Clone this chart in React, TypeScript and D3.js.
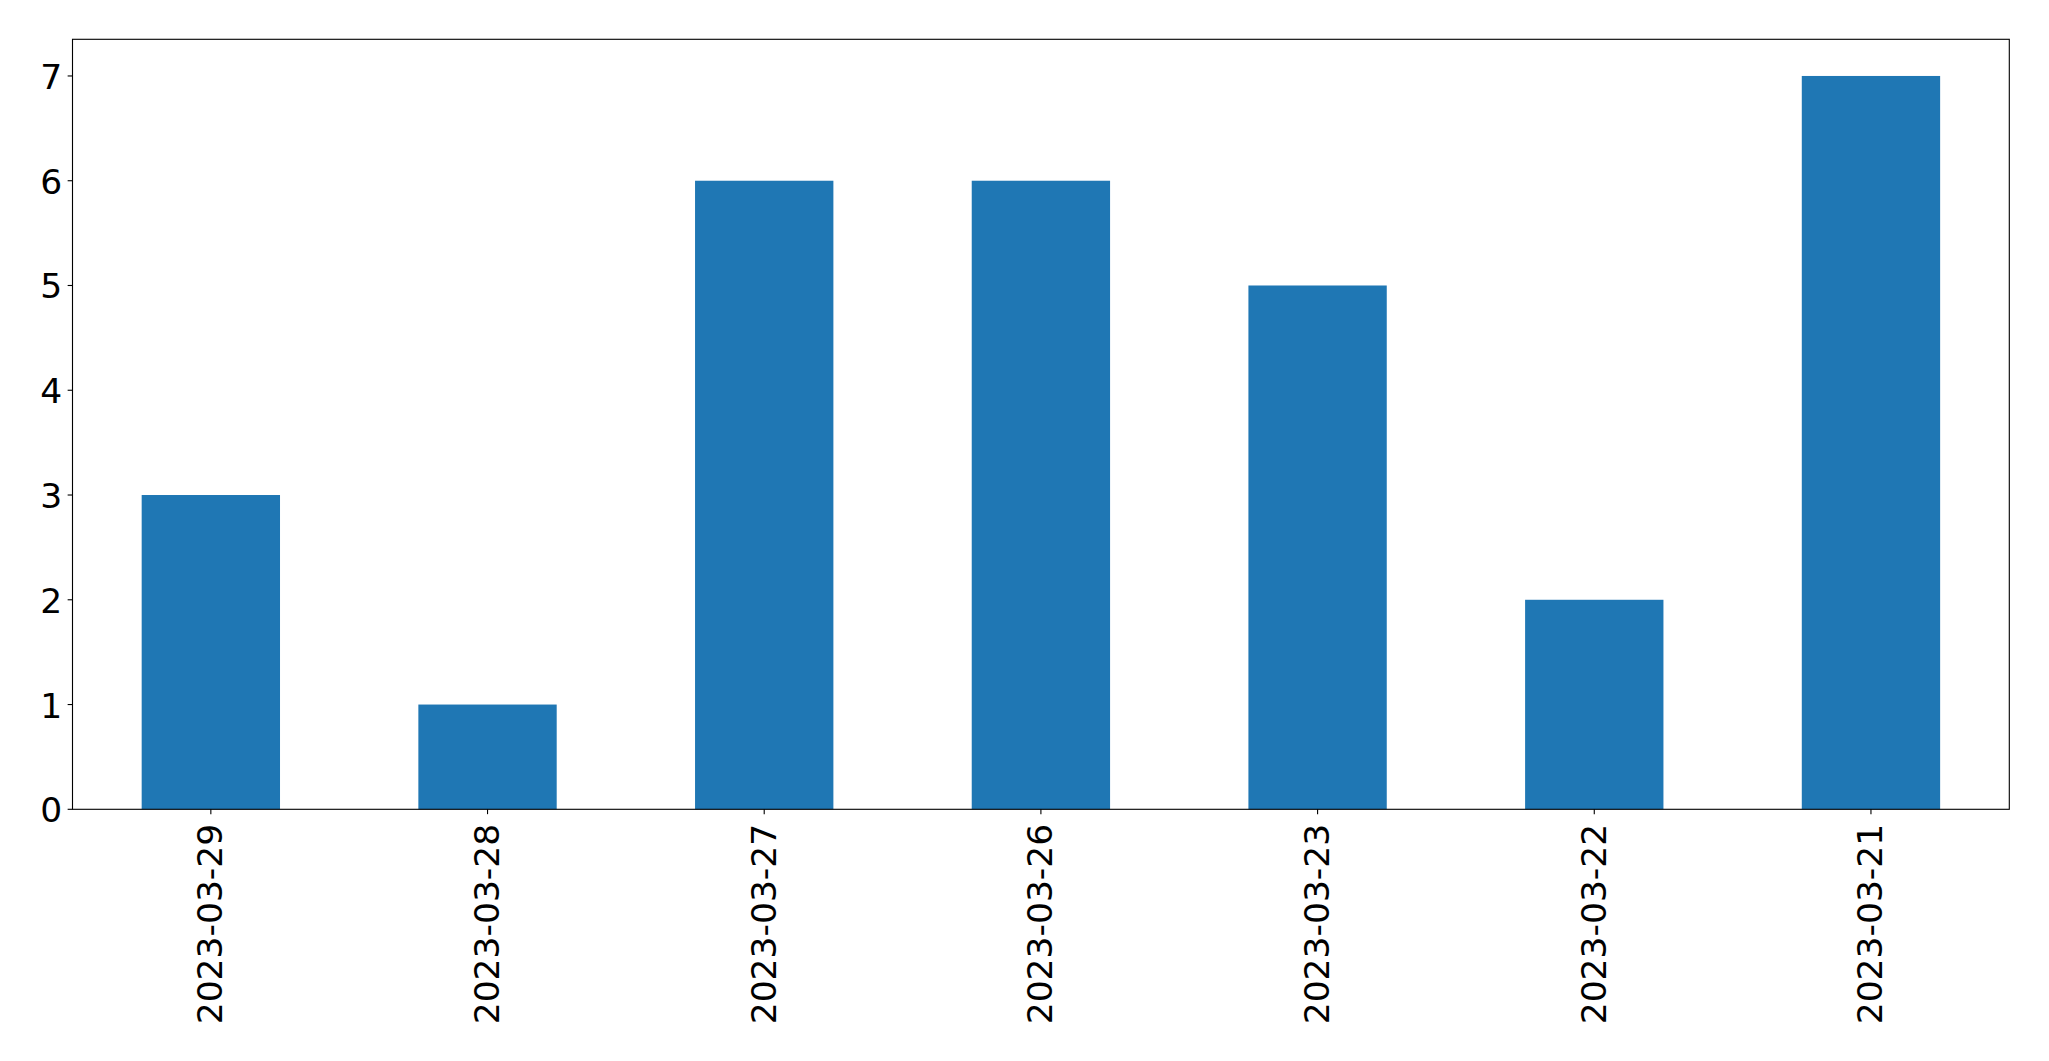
import React from "react";
import * as d3 from "d3";

const categories: string[] = ["2023-03-29", "2023-03-28", "2023-03-27", "2023-03-26", "2023-03-23", "2023-03-22", "2023-03-21"];
const values: number[] = [3, 1, 6, 6, 5, 2, 7];
const yTicks: number[] = [0, 1, 2, 3, 4, 5, 6, 7];

const W = 2049;
const H = 1061;
const left = 72.5;
const right = 2009.3;
const top = 39.3;
const bottom = 809.3;
const FONT = "'DejaVu Sans', sans-serif";
const FS = 34.5;

export default function App() {
  const x = d3.scaleLinear().domain([-0.5, categories.length - 0.5]).range([left, right]);
  const y = d3.scaleLinear().domain([0, 7.35]).range([bottom, top]);
  const barW = x(0.25) - x(-0.25);
  return (
    <svg width={W} height={H} style={{ position: "absolute", left: 0, top: 0, background: "#fff" }}>
      <rect x={0} y={0} width={W} height={H} fill="#fff" />
      {values.map((v, i) => (
        <rect key={i} x={x(i) - barW / 2} y={y(v)} width={barW} height={y(0) - y(v)} fill="#1f77b4" />
      ))}
      <rect x={left} y={top} width={right - left} height={bottom - top} fill="none" stroke="#000" strokeWidth={1.11} />
      {yTicks.map((t) => (
        <g key={t}>
          <line x1={left - 4.86} x2={left} y1={y(t)} y2={y(t)} stroke="#000" strokeWidth={1.11} />
          <text x={left - 10.3} y={y(t) + 1} textAnchor="end" dominantBaseline="central" fontFamily={FONT} fontSize={FS} fill="#000">
            {t}
          </text>
        </g>
      ))}
      {categories.map((c, i) => (
        <g key={c}>
          <line x1={x(i)} x2={x(i)} y1={bottom} y2={bottom + 4.86} stroke="#000" strokeWidth={1.11} />
          <text
            transform={`translate(${x(i) - 0.5},${bottom + 14.5}) rotate(-90)`}
            textAnchor="end"
            dominantBaseline="central"
            fontFamily={FONT}
            fontSize={FS}
            fill="#000"
          >
            {c}
          </text>
        </g>
      ))}
    </svg>
  );
}
